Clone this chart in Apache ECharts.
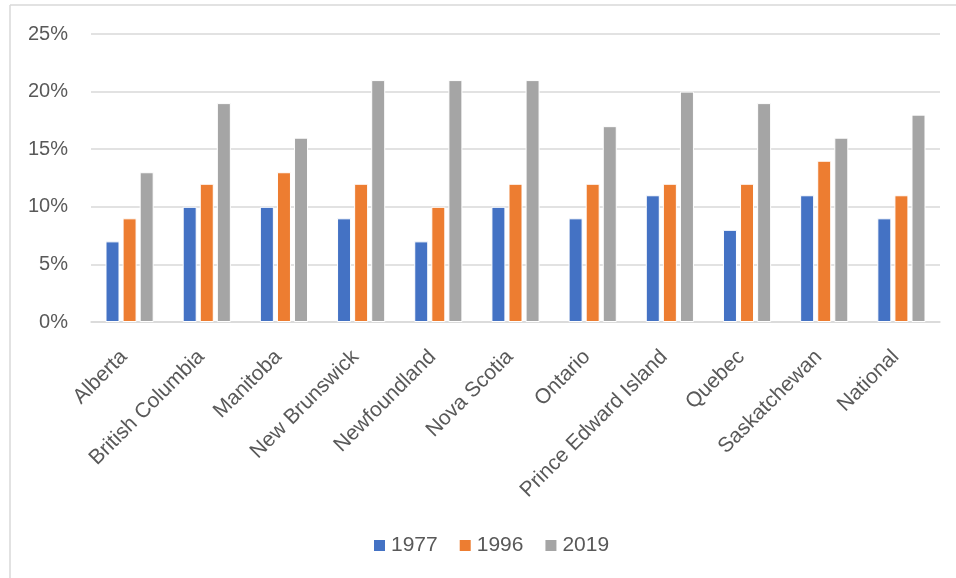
<!DOCTYPE html>
<html>
<head>
<meta charset="utf-8">
<script src="https://cdn.jsdelivr.net/npm/echarts@6/dist/echarts.min.js"></script>
<style>
  html, body { margin: 0; padding: 0; background: #fff; }
  #chart { width: 956px; height: 578px; }
</style>
</head>
<body>
<div id="chart"></div>
<script>
// provinces on the x axis
const provinces = ['Alberta', 'British Columbia', 'Manitoba', 'New Brunswick', 'Newfoundland',
  'Nova Scotia', 'Ontario', 'Prince Edward Island', 'Quebec', 'Saskatchewan', 'National'];
const years = ['1977', '1996', '2019'];
// shares
const v1977 = [0.07, 0.10, 0.10, 0.09, 0.07, 0.10, 0.09, 0.11, 0.08, 0.11, 0.09];
const v1996 = [0.09, 0.12, 0.13, 0.12, 0.10, 0.12, 0.12, 0.12, 0.12, 0.14, 0.11];
const v2019 = [0.13, 0.19, 0.16, 0.21, 0.21, 0.21, 0.17, 0.20, 0.19, 0.16, 0.18];
const yTicks = [0, 0.05, 0.10, 0.15, 0.20, 0.25];

const colors = ['#4472C4', '#ED7D31', '#A5A5A5'];
const txt = '#595959';
const font = '"Liberation Sans", Arial, sans-serif';

let myChart = echarts.init(document.getElementById('chart'));

function bar(name, data) {
  return {
    name: name,
    type: 'bar',
    data: data,
    barWidth: 14,
    barGap: '22%',
    itemStyle: { borderColor: '#fff', borderWidth: 1 }
  };
}

let option = {
  color: colors,
  textStyle: { fontFamily: font },
  animation: false,
  grid: { left: 91, right: 16, top: 34, bottom: 256, containLabel: false },
  legend: {
    data: years,
    left: 367,
    top: 530,
    itemWidth: 13,
    itemHeight: 13,
    itemGap: 20,
    icon: 'rect',
    textStyle: { color: txt, fontSize: 21, fontFamily: font }
  },
  xAxis: {
    type: 'category',
    data: provinces,
    axisTick: { show: false },
    axisLine: { lineStyle: { color: '#D9D9D9', width: 1.5 } },
    axisLabel: {
      interval: 0, rotate: 45, margin: 26, padding: [0, 8, 0, 0],
      color: txt, fontSize: 21, fontFamily: font
    }
  },
  yAxis: {
    type: 'value',
    min: yTicks[0],
    max: yTicks[yTicks.length - 1],
    interval: 0.05,
    axisLine: { show: false },
    axisTick: { show: false },
    splitLine: { lineStyle: { color: '#D9D9D9', width: 1.5 } },
    axisLabel: {
      margin: 23,
      color: txt,
      fontSize: 20,
      fontFamily: font,
      formatter: function (v) { return Math.round(v * 100) + '%'; }
    }
  },
  graphic: [
    // chart frame, only top and left edges are visible in the picture
    { type: 'line', shape: { x1: 10, y1: 5, x2: 956, y2: 5 }, style: { stroke: '#D9D9D9', lineWidth: 1.5 } },
    { type: 'line', shape: { x1: 10, y1: 5, x2: 10, y2: 578 }, style: { stroke: '#D9D9D9', lineWidth: 1.5 } }
  ],
  series: [bar(years[0], v1977), bar(years[1], v1996), bar(years[2], v2019)]
};

myChart.setOption(option);
</script>
</body>
</html>
